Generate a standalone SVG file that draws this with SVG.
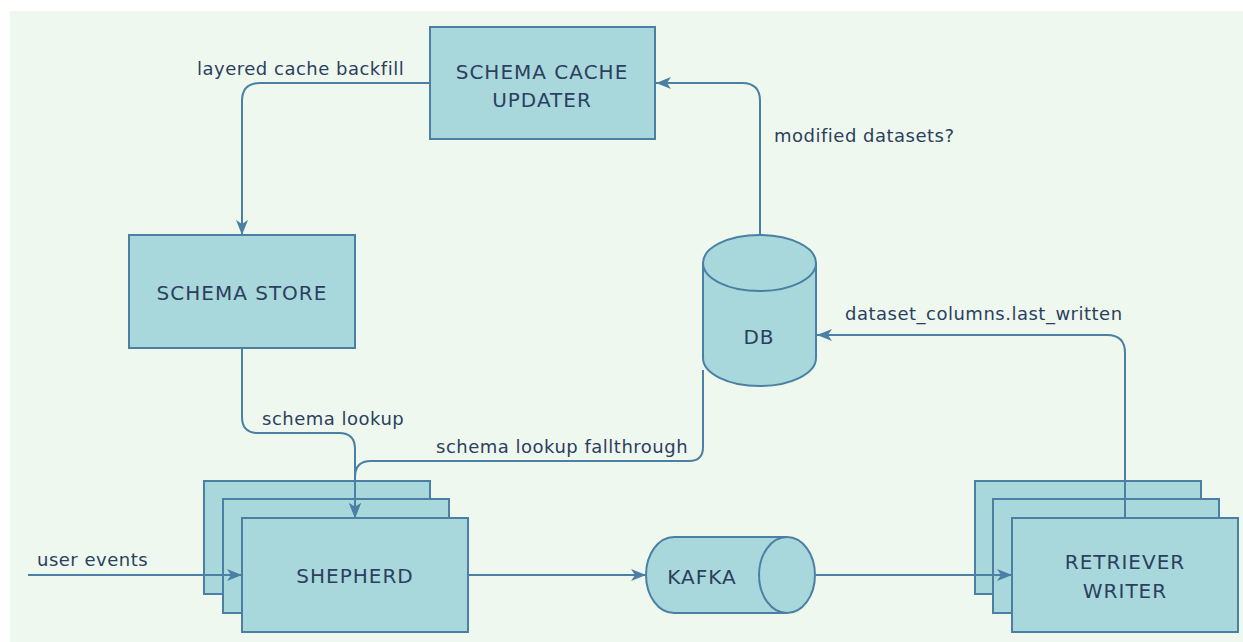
<svg xmlns="http://www.w3.org/2000/svg" width="1243" height="642" viewBox="0 0 1243 642">
<defs>
<style>
.box{fill:#a8d8dc;stroke:#4b80a4;stroke-width:2}
.node{font-family:"DejaVu Sans",sans-serif;font-size:20px;fill:#2c3f5e;text-anchor:middle;dominant-baseline:central;letter-spacing:1px}
.lbl{font-family:"DejaVu Sans",sans-serif;font-size:18px;fill:#2c3f5e;letter-spacing:0.5px}
.conn{fill:none;stroke:#4b80a4;stroke-width:2}
</style>
<marker id="arr" viewBox="0 0 15 13" refX="15" refY="6.5" markerWidth="15" markerHeight="13" markerUnits="userSpaceOnUse" orient="auto">
<path d="M0,0.5 L15,6.5 L0,12.5 L4,6.5 Z" fill="#4b80a4"/>
</marker>
</defs>
<rect x="10" y="11" width="1233" height="631" fill="#eff8ee"/>

<g id="schema-cache-updater">
<rect class="box" x="430" y="27" width="225" height="112"/>
<text class="node" x="542" y="72">SCHEMA CACHE</text>
<text class="node" x="542" y="100">UPDATER</text>
</g>

<g id="schema-store">
<rect class="box" x="129" y="235" width="226" height="113"/>
<text class="node" x="242" y="293">SCHEMA STORE</text>
</g>

<g id="db">
<path class="box" d="M703,263 V358 A56.5,28 0 0 0 816,358 V263"/>
<ellipse class="box" cx="759.5" cy="263" rx="56.5" ry="28"/>
<text class="node" x="759" y="337">DB</text>
</g>

<g id="shepherd">
<rect class="box" x="204" y="481" width="226" height="113"/>
<rect class="box" x="223" y="499" width="226" height="114"/>
<rect class="box" x="242" y="518" width="226" height="114"/>
<text class="node" x="355" y="576">SHEPHERD</text>
</g>

<g id="kafka">
<path class="box" d="M674,537 H787 A28,38 0 0 1 787,613 H674 A28,38 0 0 1 674,537 Z"/>
<path class="box" d="M787,537 A28,38 0 0 0 787,613" fill="none"/>
<text class="node" x="702" y="577">KAFKA</text>
</g>

<g id="retriever-writer">
<rect class="box" x="975" y="481" width="226" height="113"/>
<rect class="box" x="993" y="499" width="226" height="114"/>
<rect class="box" x="1012" y="518" width="226" height="114"/>
<text class="node" x="1125" y="562">RETRIEVER</text>
<text class="node" x="1125" y="591">WRITER</text>
</g>

<g id="connectors">
<path class="conn" d="M430,83 H260 Q242,83 242,101 V235" marker-end="url(#arr)"/>
<path class="conn" d="M760,235 V101 Q760,83 742,83 H656" marker-end="url(#arr)"/>
<path class="conn" d="M1125,518 V353 Q1125,335 1107,335 H817" marker-end="url(#arr)"/>
<path class="conn" d="M242,349 V417 Q242,433 258,433 H339 Q355,433 355,449 V518" marker-end="url(#arr)"/>
<path class="conn" d="M703,370 V447 Q703,461 689,461 H371 Q355,461 355,477 V518" marker-end="url(#arr)"/>
<path class="conn" d="M28,575 H242" marker-end="url(#arr)"/>
<path class="conn" d="M469,575 H646" marker-end="url(#arr)"/>
<path class="conn" d="M816,575 H1012" marker-end="url(#arr)"/>
<text class="lbl" x="197" y="75">layered cache backfill</text>
<text class="lbl" x="774" y="142">modified datasets?</text>
<text class="lbl" x="845" y="320">dataset_columns.last_written</text>
<text class="lbl" x="262" y="425">schema lookup</text>
<text class="lbl" x="436" y="453">schema lookup fallthrough</text>
<text class="lbl" x="37" y="566">user events</text>
</g>
</svg>
